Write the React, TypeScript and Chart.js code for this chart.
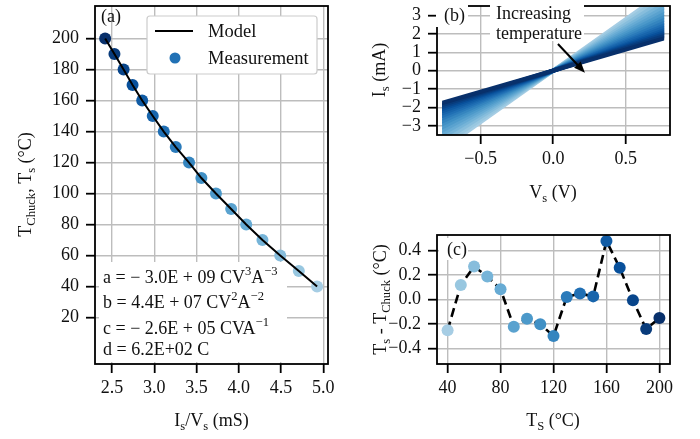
import React, { useEffect, useRef } from "react";
import { Chart, registerables } from "chart.js";

Chart.register(...registerables);

const FONT = "'Liberation Serif', 'Times New Roman', Times, serif";
const INK = "#111111";
const GRID = "#bdbdbd";

// ---------------- panel (a): temperature vs conductance ----------------
const tempA = [200, 190, 180, 170, 160, 150, 140, 130, 120, 110, 100, 90, 80, 70, 60, 50, 40];
const condA = [2.42, 2.53, 2.638, 2.744, 2.858, 2.983, 3.113, 3.255, 3.412, 3.558, 3.73, 3.91, 4.088, 4.28, 4.49, 4.71, 4.926];
const modelCond = [2.42, 2.53, 2.638, 2.744, 2.858, 2.983, 3.113, 3.255, 3.412, 3.558, 3.73, 3.91, 4.088, 4.28, 4.49, 4.71, 4.926];
const modelTemp = [200, 190, 180, 170, 160, 150, 140, 130, 120, 110, 100, 90, 80, 70, 60, 50, 40];
const ticksAX = [2.5, 3.0, 3.5, 4.0, 4.5, 5.0];
const ticksAY = [20, 40, 60, 80, 100, 120, 140, 160, 180, 200];

// ---------------- panel (b): I-V sweeps ----------------
const tempB = [40, 50, 60, 70, 80, 90, 100, 110, 120, 130, 140, 150, 160, 170, 180, 190, 200];
const edgeVoltage = 0.765;
const currentAtEdge = [4.28, 4.07, 3.85, 3.63, 3.44, 3.26, 3.08, 2.91, 2.76, 2.6, 2.46, 2.33, 2.2, 2.09, 1.98, 1.87, 1.76];
const ticksBX = [-0.5, 0, 0.5];
const ticksBY = [-3, -2, -1, 0, 1, 2, 3];
const arrowFrom = [0.033, 1.45];
const arrowTo = [0.219, -0.11];

// ---------------- panel (c): residuals ----------------
const tempC = [40, 50, 60, 70, 80, 90, 100, 110, 120, 130, 140, 150, 160, 170, 180, 190, 200];
const deltaC = [-0.25, 0.12, 0.27, 0.19, 0.085, -0.22, -0.155, -0.2, -0.297, 0.022, 0.05, 0.027, 0.479, 0.26, -0.005, -0.24, -0.15];
const ticksCX = [40, 80, 120, 160, 200];
const ticksCY = [-0.4, -0.2, 0, 0.2, 0.4];

// ---------------- colours ----------------
const BLUES = ["#f7fbff", "#deebf7", "#c6dbef", "#9ecae1", "#6baed6", "#4292c6", "#2171b5", "#08519c", "#08306b"];
function hexToRgb(h: string) {
  return [parseInt(h.slice(1, 3), 16), parseInt(h.slice(3, 5), 16), parseInt(h.slice(5, 7), 16)];
}
function blues(t: number) {
  const p = Math.max(0, Math.min(1, t)) * 8;
  const i = Math.min(7, Math.floor(p));
  const f = p - i;
  const a = hexToRgb(BLUES[i]);
  const b = hexToRgb(BLUES[i + 1]);
  const c = a.map((v, k) => Math.round(v + (b[k] - v) * f));
  return `rgb(${c[0]},${c[1]},${c[2]})`;
}
const tempColor = (T: number) => blues(0.35 + (0.65 * (T - 40)) / 160);

// ---------------- helpers ----------------
type Run = [string, string?];
function fontFor(size: number, mode?: string) {
  return `${mode ? size * 0.7 : size}px ${FONT}`;
}
function richWidth(ctx: CanvasRenderingContext2D, runs: Run[], size: number) {
  let w = 0;
  for (const [t, m] of runs) {
    ctx.font = fontFor(size, m);
    w += ctx.measureText(t).width;
  }
  return w;
}
function drawRich(
  ctx: CanvasRenderingContext2D,
  runs: Run[],
  x: number,
  y: number,
  size: number,
  align: "left" | "center" = "left",
  rotate = false
) {
  ctx.save();
  ctx.translate(x, y);
  if (rotate) ctx.rotate(-Math.PI / 2);
  const total = richWidth(ctx, runs, size);
  let cx = align === "center" ? -total / 2 : 0;
  const base = size * 0.33;
  ctx.fillStyle = INK;
  ctx.textBaseline = "alphabetic";
  ctx.textAlign = "left";
  for (const [t, m] of runs) {
    ctx.font = fontFor(size, m);
    const dy = m === "sub" ? size * 0.22 : m === "sup" ? -size * 0.42 : 0;
    ctx.fillText(t, cx, base + dy);
    cx += ctx.measureText(t).width;
  }
  ctx.restore();
}
function whiteBox(ctx: CanvasRenderingContext2D, x0: number, y0: number, x1: number, y1: number) {
  ctx.save();
  ctx.fillStyle = "#ffffff";
  ctx.fillRect(x0, y0, x1 - x0, y1 - y0);
  ctx.restore();
}
function drawFrame(chart: any) {
  const { ctx, chartArea: a } = chart;
  ctx.save();
  ctx.strokeStyle = "#000";
  ctx.lineWidth = 1.8;
  ctx.strokeRect(a.left, a.top, a.right - a.left, a.bottom - a.top);
  ctx.restore();
}
const fmt = (dec: number) => (v: number) => (v < -1e-9 ? "\u2212" : "") + Math.abs(v).toFixed(dec);

function axisOpts(min: number, max: number, ticks: number[], format: (v: number) => string, size: number, isX: boolean) {
  return {
    type: "linear",
    min,
    max,
    afterBuildTicks: (s: any) => {
      s.ticks = ticks.map((v) => ({ value: v }));
    },
    afterFit: (s: any) => {
      if (isX) s.height = size;
      else s.width = size;
      s.paddingLeft = 0;
      s.paddingRight = 0;
      s.paddingTop = 0;
      s.paddingBottom = 0;
    },
    grid: { color: GRID, lineWidth: 1.4, drawTicks: true, tickLength: 9, tickColor: "#000", tickWidth: 1.8 },
    border: { display: false },
    ticks: {
      font: { family: FONT, size: 18 },
      color: INK,
      padding: isX ? 4 : 7,
      maxRotation: 0,
      autoSkip: false,
      callback: (v: number) => format(v),
    },
  };
}
const baseOptions = (padding: any) => ({
  responsive: false,
  animation: false,
  events: [],
  layout: { padding },
  plugins: { legend: { display: false }, tooltip: { enabled: false }, title: { display: false } },
});

// ---------------- configs ----------------
function configA() {
  const overlay = {
    id: "overlayA",
    beforeDatasetsDraw(chart: any) {
      const ctx = chart.ctx as CanvasRenderingContext2D;
      whiteBox(ctx, 99, 262, 287, 362);
      drawRich(ctx, [["a = \u2212 3.0E + 09 CV"], ["3", "sup"], ["A"], ["\u22123", "sup"]], 103, 277, 18);
      drawRich(ctx, [["b = 4.4E + 07 CV"], ["2", "sup"], ["A"], ["\u22122", "sup"]], 103, 302, 18);
      drawRich(ctx, [["c = \u2212 2.6E + 05 CVA"], ["\u22121", "sup"]], 103, 328, 18);
      drawRich(ctx, [["d = 6.2E+02 C"]], 103, 349, 18);
    },
    afterDraw(chart: any) {
      const ctx = chart.ctx as CanvasRenderingContext2D;
      drawFrame(chart);
      drawRich(ctx, [["(a)"]], 101, 16, 18);
      // legend
      ctx.save();
      ctx.fillStyle = "#fff";
      ctx.strokeStyle = "#cccccc";
      ctx.lineWidth = 1.2;
      ctx.beginPath();
      (ctx as any).roundRect(147, 16, 170, 58, 3);
      ctx.fill();
      ctx.stroke();
      ctx.strokeStyle = "#000";
      ctx.lineWidth = 2;
      ctx.beginPath();
      ctx.moveTo(155, 31);
      ctx.lineTo(193, 31);
      ctx.stroke();
      ctx.fillStyle = "#2171b5";
      ctx.beginPath();
      ctx.arc(175, 58, 5.5, 0, Math.PI * 2);
      ctx.fill();
      ctx.restore();
      drawRich(ctx, [["Model"]], 208, 31, 18.5);
      drawRich(ctx, [["Measurement"]], 208, 58, 18.5);
      // axis titles
      drawRich(ctx, [["I"], ["s", "sub"], ["/V"], ["s", "sub"], [" (mS)"]], 211.5, 420, 18, "center");
      drawRich(ctx, [["T"], ["Chuck", "sub"], [", T"], ["s", "sub"], [" (\u00b0C)"]], 25, 184.5, 18, "center", true);
    },
  };
  return {
    type: "scatter",
    data: {
      datasets: [
        {
          label: "Model",
          data: modelCond.map((x, i) => ({ x, y: modelTemp[i] })),
          showLine: true,
          borderColor: "#000",
          borderWidth: 2,
          pointRadius: 0,
          pointHoverRadius: 0,
          tension: 0,
        },
        {
          label: "Measurement",
          data: condA.map((x, i) => ({ x, y: tempA[i] })),
          showLine: false,
          pointRadius: 6,
          pointBorderWidth: 0,
          pointBackgroundColor: tempA.map(tempColor),
        },
      ],
    },
    options: {
      ...baseOptions({ left: 0, right: 22, top: 5, bottom: 0 }),
      scales: {
        x: axisOpts(2.3, 5.055, ticksAX, fmt(1), 75, true),
        y: axisOpts(-10, 221, ticksAY, fmt(0), 95, false),
      },
    },
    plugins: [overlay],
  };
}

function configB() {
  const overlay = {
    id: "overlayB",
    beforeDatasetsDraw(chart: any) {
      // clip the band to a clean vertical edge at the sweep limits
      const ctx = chart.ctx as CanvasRenderingContext2D;
      const xs = chart.scales.x;
      const a = chart.chartArea;
      const xl = Math.max(a.left, xs.getPixelForValue(-edgeVoltage));
      const xr = Math.min(a.right, xs.getPixelForValue(edgeVoltage));
      ctx.save();
      ctx.beginPath();
      ctx.rect(xl, a.top, xr - xl, a.bottom - a.top);
      ctx.clip();
    },
    afterDatasetsDraw(chart: any) {
      chart.ctx.restore();
    },
    afterDraw(chart: any) {
      const ctx = chart.ctx as CanvasRenderingContext2D;
      const xs = chart.scales.x;
      const ys = chart.scales.y;
      drawFrame(chart);
      // arrow
      const x0 = xs.getPixelForValue(arrowFrom[0]);
      const y0 = ys.getPixelForValue(arrowFrom[1]);
      const x1 = xs.getPixelForValue(arrowTo[0]);
      const y1 = ys.getPixelForValue(arrowTo[1]);
      const ang = Math.atan2(y1 - y0, x1 - x0);
      const hl = 11;
      const hw = 4.5;
      ctx.save();
      ctx.strokeStyle = "#000";
      ctx.fillStyle = "#000";
      ctx.lineWidth = 2;
      ctx.beginPath();
      ctx.moveTo(x0, y0);
      ctx.lineTo(x1 - Math.cos(ang) * hl * 0.8, y1 - Math.sin(ang) * hl * 0.8);
      ctx.stroke();
      ctx.beginPath();
      ctx.moveTo(x1, y1);
      ctx.lineTo(x1 - Math.cos(ang) * hl - Math.sin(ang) * hw, y1 - Math.sin(ang) * hl + Math.cos(ang) * hw);
      ctx.lineTo(x1 - Math.cos(ang) * hl + Math.sin(ang) * hw, y1 - Math.sin(ang) * hl - Math.cos(ang) * hw);
      ctx.closePath();
      ctx.fill();
      ctx.restore();
      // labels with white boxes
      whiteBox(ctx, 86, 0, 118, 27);
      drawRich(ctx, [["(b)"]], 94, 15, 18);
      whiteBox(ctx, 140, 0, 234, 41);
      drawRich(ctx, [["Increasing"]], 146, 13, 18);
      drawRich(ctx, [["temperature"]], 146, 33, 18);
      // axis titles
      drawRich(ctx, [["V"], ["s", "sub"], [" (V)"]], 203, 192, 18, "center");
      drawRich(ctx, [["I"], ["s", "sub"], [" (mA)"]], 29, 70, 18, "center", true);
    },
  };
  return {
    type: "scatter",
    data: {
      datasets: tempB.map((T, i) => ({
        label: `${T} \u00b0C`,
        data: [
          { x: -edgeVoltage, y: -currentAtEdge[i] },
          { x: edgeVoltage, y: currentAtEdge[i] },
        ],
        showLine: true,
        borderColor: tempColor(T),
        borderWidth: 4.2,
        borderCapStyle: "square",
        pointRadius: 0,
        pointHoverRadius: 0,
        clip: 0,
        order: tempB.length - i,
      })),
    },
    options: {
      ...baseOptions({ left: 0, right: 30, top: 6, bottom: 0 }),
      scales: {
        x: axisOpts(-0.8, 0.805, ticksBX, fmt(1), 85, true),
        y: axisOpts(-3.5, 3.52, ticksBY, fmt(0), 87, false),
      },
    },
    plugins: [overlay],
  };
}

function configC() {
  const overlay = {
    id: "overlayC",
    afterDraw(chart: any) {
      const ctx = chart.ctx as CanvasRenderingContext2D;
      drawFrame(chart);
      whiteBox(ctx, 89, 18, 118, 40);
      drawRich(ctx, [["(c)"]], 97, 29, 18);
      drawRich(ctx, [["T"], ["S", "sub"], [" (\u00b0C)"]], 203, 200, 18, "center");
      drawRich(ctx, [["T"], ["s", "sub"], [" - T"], ["Chuck", "sub"], [" (\u00b0C)"]], 30, 79.5, 18, "center", true);
    },
  };
  return {
    type: "scatter",
    data: {
      datasets: [
        {
          label: "Residual",
          data: tempC.map((x, i) => ({ x, y: deltaC[i] })),
          showLine: true,
          borderColor: "#000",
          borderWidth: 2.6,
          borderDash: [9, 5],
          pointRadius: 6,
          pointBorderWidth: 0,
          pointBackgroundColor: tempC.map(tempColor),
          tension: 0,
        },
      ],
    },
    options: {
      ...baseOptions({ left: 0, right: 30, top: 15, bottom: 0 }),
      scales: {
        x: axisOpts(32, 208, ticksCX, fmt(0), 75, true),
        y: axisOpts(-0.525, 0.528, ticksCY, fmt(1), 87, false),
      },
    },
    plugins: [overlay],
  };
}

function Panel({ left, top, width, height, build }: { left: number; top: number; width: number; height: number; build: () => any }) {
  const ref = useRef<HTMLCanvasElement>(null);
  useEffect(() => {
    const chart = new Chart(ref.current as HTMLCanvasElement, build());
    return () => chart.destroy();
  }, []);
  return (
    <canvas
      ref={ref}
      width={width}
      height={height}
      style={{ position: "absolute", left, top, width, height, display: "block" }}
    />
  );
}

export default function App() {
  return (
    <div style={{ position: "absolute", left: 0, top: 0, width: 700, height: 439, background: "#fff", overflow: "hidden" }}>
      <Panel left={0} top={0} width={350} height={439} build={configA} />
      <Panel left={350} top={0} width={350} height={220} build={configB} />
      <Panel left={350} top={220} width={350} height={219} build={configC} />
    </div>
  );
}
